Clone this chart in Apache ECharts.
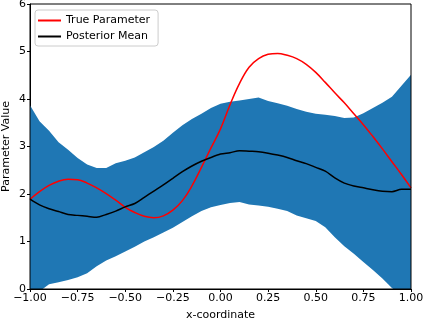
<!DOCTYPE html>
<html>
<head>
<meta charset="utf-8">
<script src="https://cdn.jsdelivr.net/npm/echarts@6/dist/echarts.min.js"></script>
<style>
  html, body { margin: 0; padding: 0; background: #fff; }
  #chart { width: 423px; height: 322px; }
</style>
</head>
<body>
<div id="chart"></div>
<script>
// x positions of the samples
const xs = [-1.00, -0.95, -0.90, -0.85, -0.80, -0.75, -0.70, -0.65, -0.60, -0.55,
  -0.50, -0.45, -0.40, -0.35, -0.30, -0.25, -0.20, -0.15, -0.10, -0.05,
  0.00, 0.05, 0.10, 0.15, 0.20, 0.25, 0.30, 0.35, 0.40, 0.45,
  0.50, 0.55, 0.60, 0.65, 0.70, 0.75, 0.80, 0.85, 0.90, 0.95, 1.00]

// true parameter (red)
const trueParam = [1.89, 2.05, 2.18, 2.27, 2.31, 2.30, 2.23, 2.13, 2.01, 1.87,
  1.72, 1.61, 1.53, 1.50, 1.54, 1.66, 1.86, 2.17, 2.56, 2.97,
  3.37, 3.88, 4.33, 4.67, 4.85, 4.94, 4.96, 4.92, 4.85, 4.73,
  4.56, 4.35, 4.13, 3.92, 3.69, 3.46, 3.21, 2.95, 2.68, 2.41, 2.13]

// posterior mean (black)
const postMean = [1.89, 1.77, 1.69, 1.63, 1.57, 1.55, 1.53, 1.51, 1.57, 1.64,
  1.73, 1.80, 1.93, 2.06, 2.19, 2.33, 2.47, 2.59, 2.69, 2.77,
  2.84, 2.87, 2.91, 2.90, 2.89, 2.86, 2.82, 2.77, 2.70, 2.64,
  2.56, 2.48, 2.34, 2.23, 2.17, 2.13, 2.09, 2.06, 2.05, 2.10, 2.10]

// credible band
const upper = [3.87, 3.53, 3.33, 3.09, 2.93, 2.76, 2.62, 2.55, 2.55, 2.65,
  2.70, 2.77, 2.88, 2.99, 3.12, 3.29, 3.45, 3.58, 3.69, 3.81,
  3.90, 3.94, 3.97, 4.00, 4.03, 3.96, 3.91, 3.86, 3.79, 3.73,
  3.69, 3.67, 3.64, 3.60, 3.61, 3.70, 3.81, 3.92, 4.05, 4.28, 4.51]
const lower = [-0.25, -0.05, 0.10, 0.14, 0.19, 0.25, 0.33, 0.48, 0.60, 0.69,
  0.79, 0.89, 1.00, 1.09, 1.19, 1.29, 1.41, 1.53, 1.64, 1.72,
  1.77, 1.81, 1.83, 1.78, 1.76, 1.73, 1.69, 1.64, 1.55, 1.49,
  1.43, 1.30, 1.09, 0.90, 0.74, 0.57, 0.40, 0.22, 0.02, -0.12, -0.28]

const yTicks = [0, 1, 2, 3, 4, 5, 6]

const font = 'DejaVu Sans'
const fs = 11
const pair = (arr) => xs.map((x, i) => [x, arr[i]])

// band polygon: upper edge left to right, then lower edge back
const renderBand = (params, api) => {
  if (params.dataIndex !== 0) return
  const pts = []
  for (let i = 0; i < xs.length; i++) pts.push(api.coord([xs[i], upper[i]]))
  for (let i = xs.length - 1; i >= 0; i--) pts.push(api.coord([xs[i], lower[i]]))
  return {
    type: 'polygon',
    shape: { points: pts },
    style: { fill: '#1f77b4' }
  }
}

const chart = echarts.init(document.getElementById('chart'))
chart.setOption({
  animation: false,
  textStyle: { fontFamily: font },
  grid: {
    left: 30, right: 12, top: 4, bottom: 33, outerBoundsMode: 'none',
    show: true, borderColor: '#000', borderWidth: 1, z: 10
  },
  legend: {
    orient: 'vertical', left: 35, top: 10,
    data: [
      { name: 'True Parameter', icon: 'rect' },
      { name: 'Posterior Mean', icon: 'rect' }
    ],
    itemWidth: 23, itemHeight: 2, itemGap: 5,
    padding: [5, 8, 4, 3],
    borderColor: '#ccc', borderWidth: 1, borderRadius: 3,
    backgroundColor: 'rgba(255,255,255,0.8)',
    textStyle: { fontFamily: font, fontSize: fs, color: '#000' }
  },
  xAxis: {
    type: 'value', min: -1, max: 1, interval: 0.25,
    name: 'x-coordinate', nameLocation: 'middle', nameGap: 21, nameMoveOverlap: false,
    nameTextStyle: { fontFamily: font, fontSize: fs, color: '#000' },
    axisLine: { onZero: false, lineStyle: { color: '#000' } },
    axisTick: { show: true, length: 3, lineStyle: { color: '#000' } },
    axisLabel: {
      fontFamily: font, fontSize: fs, color: '#000', margin: 4,
      formatter: (v) => v.toFixed(2).replace('-', '\u2212')
    },
    splitLine: { show: false }
  },
  yAxis: {
    type: 'value', min: yTicks[0], max: yTicks[yTicks.length - 1], interval: 1,
    name: 'Parameter Value', nameLocation: 'middle', nameGap: 18, nameMoveOverlap: false,
    nameTextStyle: { fontFamily: font, fontSize: fs, color: '#000' },
    axisLine: { show: true, onZero: false, lineStyle: { color: '#000' } },
    axisTick: { show: true, length: 3, lineStyle: { color: '#000' } },
    axisLabel: { fontFamily: font, fontSize: fs, color: '#000', margin: 4 },
    splitLine: { show: false }
  },
  series: [
    {
      name: 'band', type: 'custom', renderItem: renderBand,
      data: xs.map((x, i) => [x, lower[i], upper[i]]),
      encode: { x: 0, y: [1, 2] },
      clip: true, silent: true, z: 1
    },
    {
      name: 'True Parameter', type: 'line', data: pair(trueParam),
      smooth: 0.4, symbol: 'none', color: '#ff0000',
      lineStyle: { color: '#ff0000', width: 1.5 }, z: 3
    },
    {
      name: 'Posterior Mean', type: 'line', data: pair(postMean),
      smooth: 0.3, symbol: 'none', color: '#000',
      lineStyle: { color: '#000', width: 1.5 }, z: 3
    }
  ]
})
</script>
</body>
</html>
